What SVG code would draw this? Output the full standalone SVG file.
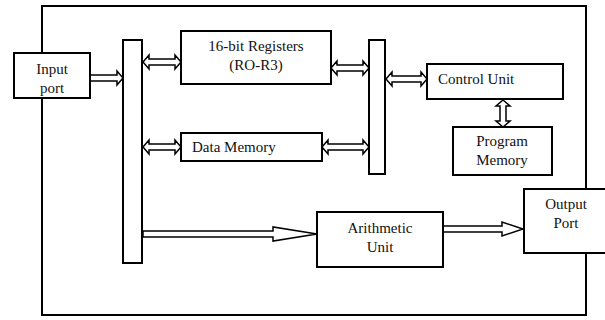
<svg xmlns="http://www.w3.org/2000/svg" width="605" height="320" viewBox="0 0 605 320">
<style>
.box{fill:#fff;stroke:#000;stroke-width:2}
.frame{fill:none;stroke:#000;stroke-width:2}
.arr{fill:#fff;stroke:#000;stroke-width:1.5;stroke-linejoin:miter}
text{font-family:"Liberation Serif","Times New Roman",serif;font-size:15px;fill:#111}
</style>
<rect width="605" height="320" fill="#fff"/>
<rect class="frame" x="42" y="6" width="544" height="309"/>
<g id="connectors">
<polygon class="arr" points="90,75 117,75 117,71 123,78 117,85 117,81 90,81"/>
<polygon class="arr" points="143,62 149,55 149,59 175,59 175,55 181,62 175,69 175,65 149,65 149,69"/>
<polygon class="arr" points="331,68 337,61 337,65 363,65 363,61 369,68 363,75 363,71 337,71 337,75"/>
<polygon class="arr" points="143,147 149,140 149,144 175,144 175,140 181,147 175,154 175,150 149,150 149,154"/>
<polygon class="arr" points="322,147 328,140 328,144 363,144 363,140 369,147 363,154 363,150 328,150 328,154"/>
<polygon class="arr" points="386,79 392,72 392,76 421,76 421,72 427,79 421,86 421,82 392,82 392,86"/>
<polygon class="arr" points="503,100 510,106 506,106 506,121 510,121 503,127 496,121 500,121 500,106 496,106"/>
<polygon class="arr" points="143,231 273,231 273,227 317,234 273,241 273,237 143,237"/>
<polygon class="arr" points="443,226 502,226 502,222 523,229 502,236 502,232 443,232"/>
</g>
<g id="input-port"><rect class="box" x="14" y="53" width="76" height="45"/><text x="52" y="74" text-anchor="middle">Input</text><text x="52" y="93" text-anchor="middle">port</text></g>
<g id="left-bus"><rect class="box" x="123" y="40" width="19" height="223"/></g>
<g id="right-bus"><rect class="box" x="369" y="40" width="16" height="134"/></g>
<g id="registers"><rect class="box" x="181" y="31" width="150" height="53"/><text x="256" y="51" text-anchor="middle">16-bit Registers</text><text x="256" y="70" text-anchor="middle">(RO-R3)</text></g>
<g id="data-memory"><rect class="box" x="181" y="133" width="141" height="28"/><text x="192" y="152">Data Memory</text></g>
<g id="control-unit"><rect class="box" x="427" y="64" width="136" height="35"/><text x="438" y="84">Control Unit</text></g>
<g id="program-memory"><rect class="box" x="453" y="127" width="99" height="48"/><text x="502" y="146" text-anchor="middle">Program</text><text x="502" y="165" text-anchor="middle">Memory</text></g>
<g id="arithmetic-unit"><rect class="box" x="317" y="212" width="126" height="55"/><text x="380" y="233" text-anchor="middle">Arithmetic</text><text x="380" y="252" text-anchor="middle">Unit</text></g>
<g id="output-port"><rect class="box" x="524" y="189" width="90" height="64"/><text x="566" y="209" text-anchor="middle">Output</text><text x="566" y="228" text-anchor="middle">Port</text></g>
</svg>
